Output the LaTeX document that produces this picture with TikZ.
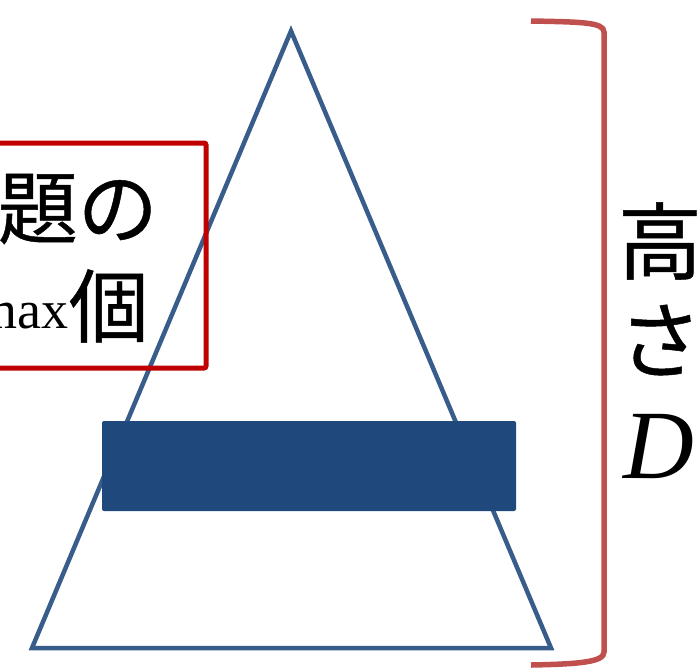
\documentclass[tikz,border=0pt]{standalone}
\usepackage{fontspec}
\newfontfamily\cjk[FakeBold=0.6]{Noto Sans CJK JP}
\newfontfamily\tms{Liberation Serif}
\definecolor{triblue}{HTML}{385D8A}
\definecolor{barblue}{HTML}{1F497D}
\definecolor{boxred}{HTML}{C00000}
\definecolor{brred}{HTML}{C0504D}
\begin{document}
\begin{tikzpicture}[x=1pt,y=-1pt,
  jp/.style={inner sep=0pt,font=\cjk\fontsize{80}{80}\selectfont},
  tri/.style={draw=triblue,line width=4.5pt,line join=miter},
  bar/.style={fill=barblue,rounded corners=2pt},
  redbox/.style={draw=boxred,line width=5pt,rounded corners=2pt},
  brace/.style={draw=brred,line width=5.5pt}]
\useasboundingbox (0,0) rectangle (700,667);
% triangle
\coordinate (apex) at (291,31);
\coordinate (bl) at (32,648);
\coordinate (br) at (551,648);
\draw[tri] (apex) -- (br) -- (bl) -- cycle;
% bar
\fill[bar] (102,421) rectangle (516,511);
% red box (cut at left)
\draw[redbox] (-20,143) -- (206,143) -- (206,368) -- (-20,368);
\node[jp,anchor=east] (l1) at (158,209) {題の};
\node[jp,anchor=east] (ko) at (149,306) {個};
\node[inner sep=0pt,anchor=base east,font=\tms\fontsize{54}{54}\selectfont] (mx) at (ko.west |- 0,328) {max};
% bracket
\draw[brace] (531,21) .. controls (580,22) and (604,22) .. (604,32) -- (604,652) .. controls (604,662) and (580,664) .. (531,665);
% height label
\node[jp,font=\cjk\fontsize{84}{84}\selectfont] (t1) at (660,241) {高};
\node[jp,font=\cjk\fontsize{84}{84}\selectfont] (t2) at (660,340) {さ};
\node[inner sep=0pt,anchor=base,font=\tms\itshape\fontsize{98}{98}\selectfont] (t3) at (659,478) {D};
\end{tikzpicture}
\end{document}
